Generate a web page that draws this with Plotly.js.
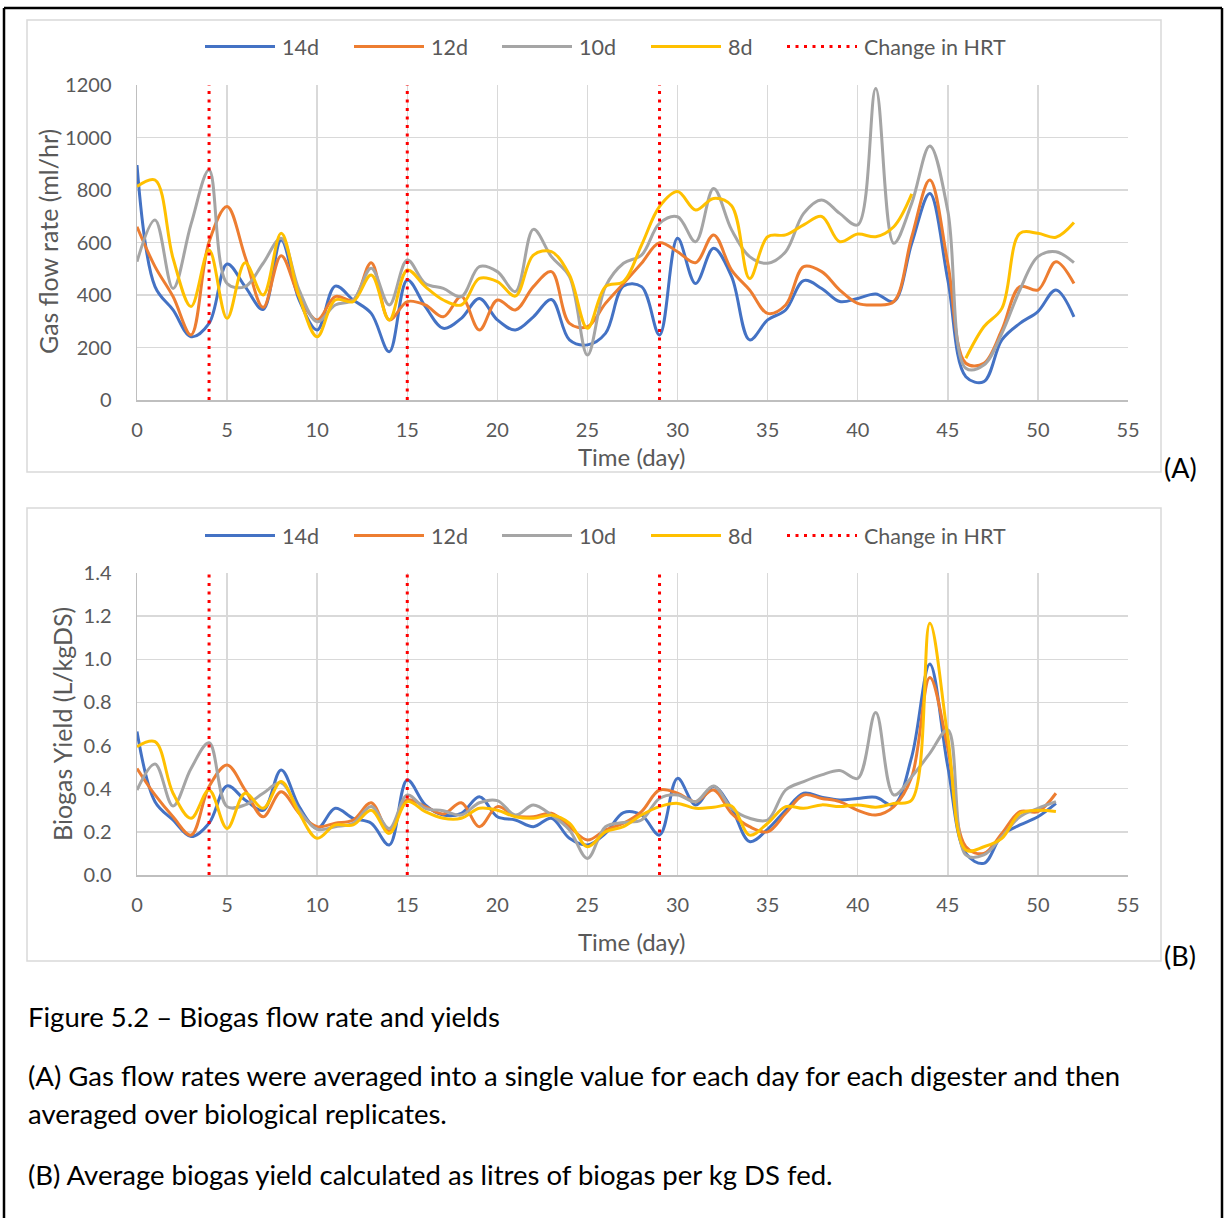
<!DOCTYPE html>
<html>
<head>
<meta charset="utf-8">
<script src="https://cdn.plot.ly/plotly-3.0.1.min.js"></script>
<style>
  html, body { margin: 0; padding: 0; background: #ffffff; }
  #chart { width: 1225px; height: 1218px; }
</style>
</head>
<body>
<div id="chart"></div>
<script>
// ---- Data ---------------------------------------------------------------
// (A) gas flow rate, ml/hr, one value per day and digester HRT
const flowDays = [0,1,2,3,4,5,6,7,8,9,10,11,12,13,14,15,16,17,18,19,20,21,22,23,24,25,26,
                  27,28,29,30,31,32,33,34,35,36,37,38,39,40,41,42,43,44,45,46,47,48,49,50,51,52];
const flow14d = [895,432,343,241,292,518,432,345,610,381,267,434,381,330,184,457,356,273,311,387,
                 305,267,317,383,229,210,254,434,432,248,616,444,578,470,229,305,343,455,425,375,
                 387,404,375,597,787,457,89,70,229,292,337,419,317];
const flow12d = [660,508,394,248,603,737,546,353,550,394,305,394,381,523,305,375,362,317,394,267,
                 381,343,432,489,292,279,368,444,521,599,565,523,629,495,419,330,362,508,489,419,
                 368,362,375,622,838,521,140,140,267,432,419,527,444];
const flow10d = [527,686,425,670,876,444,432,521,616,419,298,362,381,502,362,533,444,425,394,508,
                 489,413,650,546,470,171,432,521,552,673,698,603,806,648,546,521,565,711,762,711,
                 667,1187,597,750,968,720,121,133,254,419,546,565,523];
const flow8d  = [813,838,540,356,571,311,523,400,635,394,241,381,375,476,305,495,432,381,362,463,
                 451,396,552,565,476,273,432,451,590,737,794,724,768,740,463,622,629,667,699,603,
                 632,622,660,785,null,null,159,279,349,635,635,620,676];

// (B) biogas yield, L/kgDS fed
const yieldDays = [0,1,2,3,4,5,6,7,8,9,10,11,12,13,14,15,16,17,18,19,20,21,22,23,24,25,26,
                   27,28,29,30,31,32,33,34,35,36,37,38,39,40,41,42,43,44,45,46,47,48,49,50,51];
const yield14d = [0.665,0.340,0.255,0.178,0.240,0.413,0.348,0.300,0.487,0.317,0.216,0.309,0.263,
                  0.240,0.139,0.440,0.325,0.278,0.286,0.363,0.270,0.255,0.224,0.263,0.170,0.139,
                  0.193,0.289,0.278,0.185,0.448,0.325,0.410,0.309,0.155,0.212,0.300,0.379,0.360,
                  0.348,0.355,0.360,0.325,0.549,0.978,0.502,0.100,0.054,0.185,0.232,0.270,0.332];
const yield12d = [0.494,0.371,0.270,0.185,0.410,0.510,0.394,0.270,0.386,0.286,0.224,0.240,0.255,
                  0.335,0.200,0.348,0.317,0.283,0.335,0.224,0.317,0.274,0.270,0.286,0.224,0.162,
                  0.209,0.240,0.294,0.394,0.379,0.340,0.394,0.286,0.224,0.200,0.286,0.371,0.355,
                  0.340,0.300,0.278,0.317,0.456,0.916,0.587,0.131,0.100,0.193,0.294,0.294,0.379];
const yield10d = [0.394,0.515,0.320,0.494,0.613,0.317,0.325,0.379,0.428,0.300,0.212,0.224,0.240,
                  0.317,0.216,0.371,0.309,0.298,0.278,0.335,0.345,0.278,0.325,0.278,0.209,0.077,
                  0.224,0.243,0.255,0.355,0.371,0.340,0.413,0.309,0.263,0.255,0.394,0.433,0.464,
                  0.484,0.448,0.753,0.371,0.456,0.564,0.672,0.093,0.093,0.178,0.270,0.309,0.340];
const yield8d  = [0.595,0.618,0.379,0.263,0.394,0.216,0.379,0.309,0.433,0.286,0.170,0.232,0.232,
                  0.300,0.193,0.340,0.294,0.263,0.263,0.309,0.300,0.270,0.263,0.278,0.240,0.131,
                  0.200,0.224,0.278,0.317,0.332,0.309,0.314,0.320,0.185,0.240,0.317,0.309,0.325,
                  0.317,0.325,0.314,0.332,0.348,1.167,0.641,0.116,0.131,0.170,0.286,0.300,0.294];

// Days on which the hydraulic retention time was changed
const hrtChangeDays = [4, 15, 29];

const seriesNames  = ['14d', '12d', '10d', '8d'];
const hrtLabel     = 'Change in HRT';
const seriesColors = ['#4472C4', '#ED7D31', '#A5A5A5', '#FFC000'];
const hrtColor     = '#FF0000';

const flowRange  = [0, 1200];
const yieldRange = [0, 1.4];
const dayRange   = [0, 55];

// ---- Page geometry (pixels) --------------------------------------------
const W = 1225, H = 1218;
const px = x => x / W;
const py = y => 1 - y / H;

const FONT = 'Lato, "Open Sans", "Liberation Sans", sans-serif';
const AXIS_GREY = '#595959';
const HRT_DASH = '3px,5.5px';

// ---- Traces -------------------------------------------------------------
function seriesTraces(days, seriesList, xa, ya) {
  return seriesList.map((vals, i) => ({
    type: 'scatter', mode: 'lines',
    x: days, y: vals, xaxis: xa, yaxis: ya,
    name: seriesNames[i], showlegend: false,
    connectgaps: false,
    line: { color: seriesColors[i], width: 3, shape: 'spline', smoothing: 1 },
    hoverinfo: 'x+y+name'
  }));
}
function hrtTraces(range, xa, ya) {
  return hrtChangeDays.map(d => ({
    type: 'scatter', mode: 'lines',
    x: [d, d], y: range, xaxis: xa, yaxis: ya,
    name: hrtLabel, showlegend: false,
    line: { color: hrtColor, width: 3, dash: HRT_DASH }
  }));
}

const data = [
  ...seriesTraces(flowDays, [flow14d, flow12d, flow10d, flow8d], 'x', 'y'),
  ...hrtTraces(flowRange, 'x', 'y'),
  ...seriesTraces(yieldDays, [yield14d, yield12d, yield10d, yield8d], 'x2', 'y2'),
  ...hrtTraces(yieldRange, 'x2', 'y2')
];

// ---- Axes ---------------------------------------------------------------
const tickFont = { family: FONT, size: 20, color: AXIS_GREY };
function xAxis(anchor) {
  return {
    anchor, domain: [px(137), px(1128)], range: dayRange,
    tickmode: 'linear', tick0: 0, dtick: 5,
    showgrid: true, gridcolor: '#D9D9D9', gridwidth: 1.5,
    zeroline: false, showline: true, linecolor: '#BFBFBF', linewidth: 1.5,
    ticks: '', ticklabelstandoff: 11, tickfont: tickFont, fixedrange: true
  };
}
function yAxis(anchor, domain, range, dtick, fmt) {
  return {
    anchor, domain, range,
    tickmode: 'linear', tick0: 0, dtick, tickformat: fmt,
    showgrid: true, gridcolor: '#D9D9D9', gridwidth: 1.5,
    zeroline: false, showline: true, linecolor: '#BFBFBF', linewidth: 1.5,
    ticks: '', ticklabelstandoff: 20, tickfont: tickFont, fixedrange: true
  };
}

// ---- Legend rows, frames and captions -----------------------------------
const legendItems = [
  { x: 205, label: seriesNames[0], color: seriesColors[0], dash: 'solid' },
  { x: 354, label: seriesNames[1], color: seriesColors[1], dash: 'solid' },
  { x: 502, label: seriesNames[2], color: seriesColors[2], dash: 'solid' },
  { x: 651, label: seriesNames[3], color: seriesColors[3], dash: 'solid' },
  { x: 787, label: hrtLabel,       color: hrtColor,        dash: HRT_DASH }
];

const shapes = [];
const annotations = [];

function label(text, x, y, size, color, anchor, angle) {
  annotations.push({
    text, xref: 'paper', yref: 'paper', x: px(x), y: py(y),
    xanchor: anchor || 'left', yanchor: 'middle', showarrow: false,
    textangle: angle || 0, borderpad: 0,
    font: { family: FONT, size, color }
  });
}

function legendRow(y) {
  legendItems.forEach(it => {
    shapes.push({
      type: 'line', xref: 'paper', yref: 'paper',
      x0: px(it.x), x1: px(it.x + 70), y0: py(y), y1: py(y),
      line: { color: it.color, width: 3, dash: it.dash }
    });
    label(it.label, it.x + 76, y, 21.5, AXIS_GREY, 'left');
  });
}

function frame(x0, y0, x1, y1) {
  shapes.push({
    type: 'rect', xref: 'paper', yref: 'paper', layer: 'below',
    x0: px(x0), x1: px(x1), y0: py(y1), y1: py(y0),
    line: { color: '#D9D9D9', width: 1.5 }, fillcolor: 'rgba(0,0,0,0)'
  });
}

// page border
[[4, 8, 1222, 8], [4, 8, 4, 1218], [1222, 8, 1222, 1218]].forEach(([a, b, c, d]) => {
  shapes.push({
    type: 'line', xref: 'paper', yref: 'paper',
    x0: px(a), y0: py(b), x1: px(c), y1: py(d),
    line: { color: '#000000', width: 2.5 }
  });
});

// panel A
frame(27, 20, 1161, 472);
legendRow(46.5);
label('Gas flow rate (ml/hr)', 48, 242, 25, AXIS_GREY, 'center', -90);
label('Time (day)', 632, 457, 24, AXIS_GREY, 'center');
label('(A)', 1163, 467, 27, '#000000', 'left');

// panel B
frame(27, 508, 1161, 961);
legendRow(535.5);
label('Biogas Yield (L/kgDS)', 62, 724, 25, AXIS_GREY, 'center', -90);
label('Time (day)', 632, 941, 24, AXIS_GREY, 'center');
label('(B)', 1163, 955, 27, '#000000', 'left');

// figure caption
label('Figure 5.2 – Biogas flow rate and yields', 27, 1016, 27.5, '#000000', 'left');
label('(A) Gas flow rates were averaged into a single value for each day for each digester and then', 27, 1075, 27.5, '#000000', 'left');
label('averaged over biological replicates.', 27, 1113, 27.5, '#000000', 'left');
label('(B) Average biogas yield calculated as litres of biogas per kg DS fed.', 27, 1174, 27.5, '#000000', 'left');

const layout = {
  width: W, height: H,
  margin: { l: 0, r: 0, t: 0, b: 0 },
  paper_bgcolor: '#ffffff', plot_bgcolor: '#ffffff',
  showlegend: false,
  font: { family: FONT, color: AXIS_GREY },
  xaxis:  xAxis('y'),
  yaxis:  yAxis('x', [py(400), py(85)], flowRange, 200, 'd'),
  xaxis2: xAxis('y2'),
  yaxis2: yAxis('x2', [py(875), py(573)], yieldRange, 0.2, '.1f'),
  shapes, annotations
};

Plotly.newPlot('chart', data, layout, { displayModeBar: false, staticPlot: true });
</script>
</body>
</html>
